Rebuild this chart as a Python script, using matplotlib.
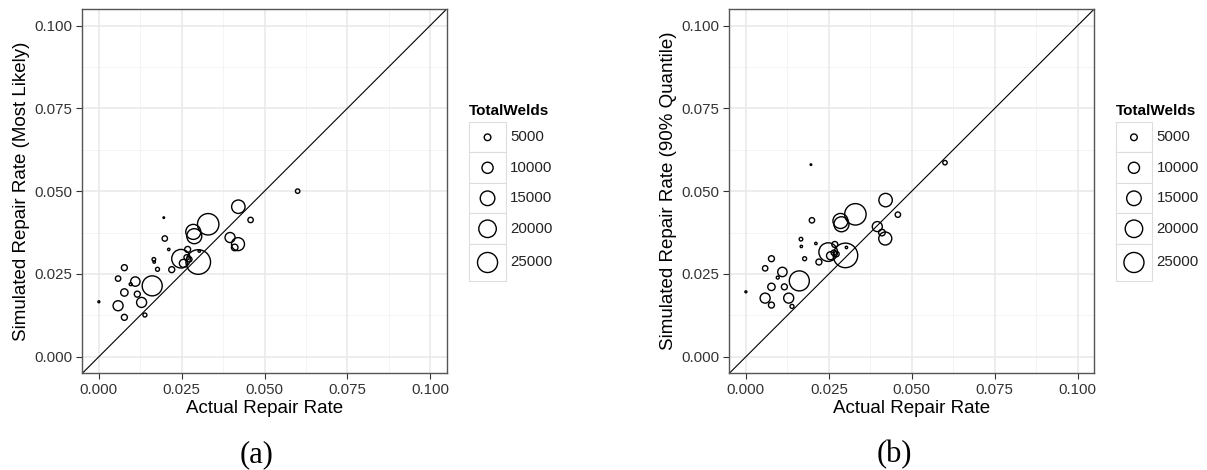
import numpy as np
import matplotlib
matplotlib.use('Agg')
import matplotlib.pyplot as plt
from matplotlib.patches import Rectangle

plt.rcParams['font.family'] = ['Liberation Sans', 'DejaVu Sans']

# actual repair rate per group (shared by both panels)
actual = [0.0421, 0.0458, 0.0196, 0.0330, 0.0285, 0.0288, 0.0199, 0.0396, 0.0420,
          0.0410, 0.0211, 0.0268, 0.0303, 0.0248, 0.0300, 0.0265, 0.0273, 0.0255,
          0.0166, 0.0167, 0.0177, 0.0220, 0.0077, 0.0058, 0.0110, 0.0096, 0.0161,
          0.0077, 0.0116, 0.0129, 0.0058, 0.0000, 0.0077, 0.0139, 0.0600]
# simulated repair rate, most likely value
sim_likely = [0.0453, 0.0413, 0.0420, 0.0400, 0.0377, 0.0364, 0.0357, 0.0360, 0.0340,
              0.0330, 0.0324, 0.0324, 0.0319, 0.0296, 0.0286, 0.0300, 0.0294, 0.0282,
              0.0294, 0.0286, 0.0264, 0.0263, 0.0269, 0.0236, 0.0227, 0.0219, 0.0214,
              0.0194, 0.0189, 0.0164, 0.0154, 0.0166, 0.0119, 0.0126, 0.0500]
# simulated repair rate, 90% quantile
sim_q90 = [0.0473, 0.0429, 0.0580, 0.0430, 0.0410, 0.0400, 0.0412, 0.0393, 0.0357,
           0.0375, 0.0342, 0.0339, 0.0330, 0.0316, 0.0306, 0.0314, 0.0310, 0.0305,
           0.0355, 0.0333, 0.0296, 0.0286, 0.0296, 0.0267, 0.0256, 0.0239, 0.0229,
           0.0211, 0.0211, 0.0177, 0.0177, 0.0196, 0.0156, 0.0152, 0.0586]
total_welds = [13200, 3900, 1430, 27900, 15700, 15700, 3900, 8600, 12600,
               4950, 1850, 4400, 1850, 22100, 35200, 3900, 3900, 6300,
               2600, 1850, 2850, 4400, 4400, 3900, 7850, 2200, 24900,
               5700, 4400, 8600, 8600, 1630, 4400, 2850, 3150]

legend_values = [5000, 10000, 15000, 20000, 25000]
ticks = [0.000, 0.025, 0.050, 0.075, 0.100]
minor = [0.0125, 0.0375, 0.0625, 0.0875]

W, H = 1207, 470
PX = 72.0 / 100  # points per pixel


def marker_area(v):
    # ggplot-like area scale: radius linear in sqrt(value)
    r = np.maximum(0.8, -2.1 + 0.0767 * np.sqrt(np.asarray(v, dtype=float)))
    return (2 * r * PX) ** 2


def draw_panel(ax, y, ylabel):
    ax.set_xlim(-0.005, 0.105)
    ax.set_ylim(-0.005, 0.105)
    for m in minor:
        ax.axvline(m, color='#F2F2F2', lw=0.6, zorder=0)
        ax.axhline(m, color='#F2F2F2', lw=0.6, zorder=0)
    for t in ticks:
        ax.axvline(t, color='#E8E8E8', lw=1.1, zorder=0)
        ax.axhline(t, color='#E8E8E8', lw=1.1, zorder=0)
    ax.plot([-0.005, 0.105], [-0.005, 0.105], color='black', lw=0.8, zorder=1)
    ax.scatter(actual, y, s=marker_area(total_welds), facecolors='none',
               edgecolors='black', linewidths=1.0, zorder=2)
    ax.set_xticks(ticks)
    ax.set_yticks(ticks)
    ax.set_xticklabels(['%.3f' % t for t in ticks])
    ax.set_yticklabels(['%.3f' % t for t in ticks])
    ax.tick_params(colors='#333333', labelsize=10.8, length=4, width=0.8,
                   color='#333333', pad=3)
    for sp in ax.spines.values():
        sp.set_color('#555555')
        sp.set_linewidth(1.0)
    ax.set_xlabel('Actual Repair Rate', fontsize=13.5, labelpad=2)
    ax.set_ylabel(ylabel, fontsize=13.5, labelpad=3)


def draw_legend(lax, left, label_x):
    lax.text(left, 111, 'TotalWelds', fontsize=11, fontweight='bold',
             ha='left', va='center')
    edges = [122.3, 152.3, 183.3, 213.3, 244.3, 280.7]
    for i, v in enumerate(legend_values):
        top, bot = edges[i], edges[i + 1]
        lax.add_patch(Rectangle((left, top), 36.5, bot - top, facecolor='white',
                                edgecolor='#DDDDDD', lw=0.8))
        cy = (top + bot) / 2
        lax.scatter([left + 18.25], [cy], s=marker_area([v]), facecolors='none',
                    edgecolors='black', linewidths=1.0)
        lax.text(label_x, cy, str(v), fontsize=10.8, ha='left', va='center',
                 color='#222222')


fig = plt.figure(figsize=(W / 100, H / 100), dpi=100)

ax1 = fig.add_axes([82.3 / W, (H - 373.3) / H, 364.4 / W, 364.3 / H])
ax2 = fig.add_axes([729.3 / W, (H - 373.3) / H, 365.0 / W, 364.3 / H])
draw_panel(ax1, sim_likely, 'Simulated Repair Rate (Most Likely)')
draw_panel(ax2, sim_q90, 'Simulated Repair Rate (90% Quantile)')

lax = fig.add_axes([0, 0, 1, 1], facecolor='none')
lax.set_xlim(0, W)
lax.set_ylim(H, 0)
lax.axis('off')
draw_legend(lax, 469.3, 510)
draw_legend(lax, 1115.7, 1156.5)

lax.text(256.5, 455, '(a)', fontsize=22, family='Liberation Serif',
         ha='center', va='center')
lax.text(894, 455, '(b)', fontsize=22, family='Liberation Serif',
         ha='center', va='center')

fig.savefig('out.png', dpi=100)
